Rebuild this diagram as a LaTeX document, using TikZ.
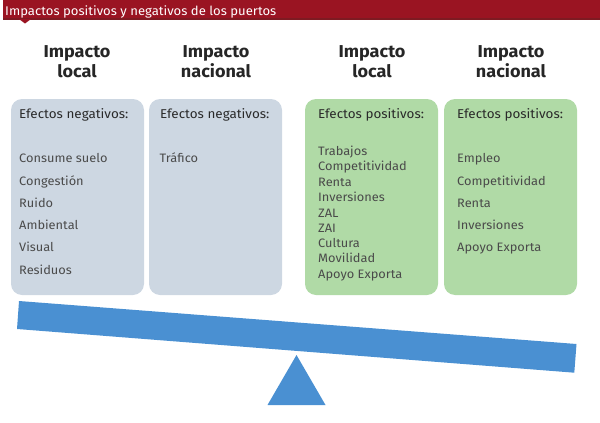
\documentclass[tikz,border=0pt]{standalone}
\usepackage{fontspec}
\setmainfont[FakeStretch=1.05]{Fira Sans}
\newfontfamily\titlefont[FakeStretch=1.04]{Fira Sans}
\definecolor{hdr}{HTML}{9A1422}
\definecolor{hdrd}{HTML}{7E1A22}
\definecolor{negc}{HTML}{CDD7E2}
\definecolor{posc}{HTML}{B0DAA6}
\definecolor{bl}{HTML}{4A90D2}
\definecolor{tx}{HTML}{2A2A2A}
\tikzset{
  pane/.style={rounded corners=11pt},
  head/.style={anchor=base,font=\fontsize{17.2}{20}\selectfont\bfseries,text=black!85,align=center,inner sep=0pt},
  sub/.style={anchor=base west,font=\fontsize{12.8}{15}\selectfont,text=tx,inner sep=0pt},
  item/.style={anchor=base west,font=\fontsize{12.2}{15}\selectfont,text=tx!85,inner sep=0pt},
}
\begin{document}
\begin{tikzpicture}[x=1pt,y=-1pt]
\useasboundingbox (0,0) rectangle (600,423);
\fill[hdr] (3,0) rectangle (600,19);
\fill[hdrd] (3,18) rectangle (600,19.5);
\fill[hdr] (19,19) -- (31,19) -- (25,23.5) -- cycle;
\node[anchor=base west,inner sep=0pt,text=white,font=\titlefont\fontsize{12.6}{15}\selectfont] (title) at (5,15) {Impactos positivos y negativos de los puertos};

\fill[negc,pane] (11,99) rectangle (144,295);
\fill[negc,pane] (149,99) rectangle (282,295);
\fill[posc,pane] (305,99) rectangle (438,295);
\fill[posc,pane] (444,99) rectangle (577,295);

\node[head] (h1a) at (77,57) {Impacto};
\node[head] (h1b) at (77,77) {local};
\node[head] (h2a) at (216,57) {Impacto};
\node[head] (h2b) at (216,77) {nacional};
\node[head] (h3a) at (372,57) {Impacto};
\node[head] (h3b) at (372,77) {local};
\node[head] (h4a) at (511,57) {Impacto};
\node[head] (h4b) at (511,77) {nacional};

\node[sub] (s1) at (19,118) {Efectos negativos:};
\node[sub] (s2) at (160,118) {Efectos negativos:};
\node[sub] (s3) at (318,118) {Efectos positivos:};
\node[sub] (s4) at (457,118) {Efectos positivos:};

\foreach \t/\y [count=\i] in {Consume suelo/162.5,Congestión/185,Ruido/207,Ambiental/229.5,Visual/251.5,Residuos/274}
  \node[item] (a\i) at (19,\y) {\t};
\node[item] (b1) at (159.5,162.5) {Tráfico};
\foreach \t/\y [count=\i] in {Trabajos/155,Competitividad/170.5,Renta/186,Inversiones/201.5,ZAL/217,ZAI/232,Cultura/247,Movilidad/262.5,Apoyo Exporta/278}
  \node[item] (c\i) at (318,\y) {\t};
\foreach \t/\y [count=\i] in {Empleo/162.5,Competitividad/185,Renta/207,Inversiones/229.5,Apoyo Exporta/251.5}
  \node[item] (d\i) at (457,\y) {\t};

\fill[bl] (19,301) -- (576.5,344) -- (574.3,372.7) -- (17,329) -- cycle;
\fill[bl] (296.5,355) -- (325.5,405) -- (267.5,405) -- cycle;
\end{tikzpicture}
\end{document}
